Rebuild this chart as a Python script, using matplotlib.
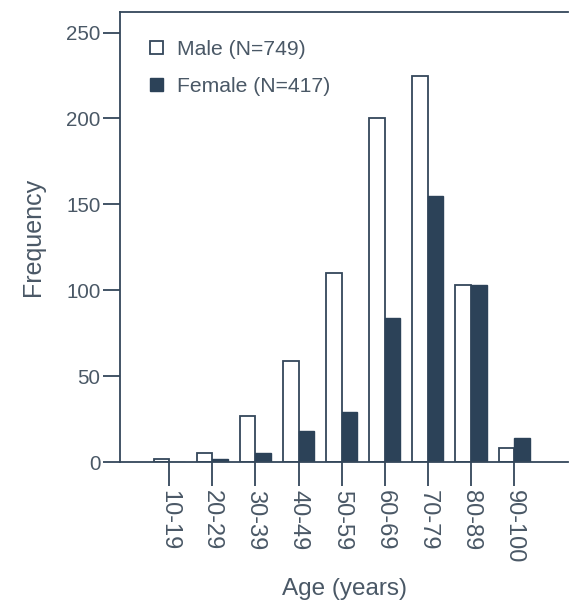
import matplotlib
matplotlib.use("Agg")
import matplotlib.pyplot as plt
import numpy as np
from matplotlib.patches import Patch

categories = ["10-19", "20-29", "30-39", "40-49", "50-59", "60-69", "70-79", "80-89", "90-100"]
male = [2, 5, 27, 59, 110, 200, 225, 103, 8]
female = [0, 2, 5, 18, 29, 84, 155, 103, 14]
yticks = [0, 50, 100, 150, 200, 250]

ink = "#34475a"
dark = "#2c4258"
txt = "#4a5866"

plt.rcParams['font.family'] = ['Liberation Sans', 'DejaVu Sans']

fig = plt.figure(figsize=(5.70, 6.03), dpi=100)
ax = fig.add_axes([120/570, 1-462/603, 448/570, 450/603])

x = np.arange(len(categories))
w = 0.36
ax.bar(x - w/2, male, width=w, facecolor="white", edgecolor=ink, linewidth=1.3)
ax.bar(x + w/2, female, width=w, facecolor=dark, edgecolor=dark, linewidth=1.0)

ax.set_xlim(-1.14, 9.25)
ax.set_ylim(0, 262)
ax.set_xticks(x)
ax.set_xticklabels(categories, rotation=-90, fontsize=17, color=txt)
ax.set_yticks(yticks)
ax.set_yticklabels([str(v) for v in yticks], fontsize=14.8, color=txt)

for s in ["left", "bottom", "top"]:
    ax.spines[s].set_color(ink)
    ax.spines[s].set_linewidth(1.3)
ax.spines["right"].set_visible(False)

ax.tick_params(axis="x", direction="out", length=17, width=1.3, color=ink, pad=3)
ax.tick_params(axis="y", direction="out", length=12, width=1.3, color=ink, pad=2)

ax.set_ylabel("Frequency", fontsize=18, color=txt, labelpad=15)
ax.set_xlabel("Age (years)", fontsize=17.5, color=txt)
ax.xaxis.label.set_va("center")
ax.xaxis.set_label_coords(0.502, -0.283)

handles = [Patch(facecolor="white", edgecolor=ink, linewidth=1.3, label="Male (N=749)"),
           Patch(facecolor=dark, edgecolor=dark, label="Female (N=417)")]
leg = ax.legend(handles=handles, loc="upper left", frameon=False, fontsize=15.2,
                handlelength=0.6, handleheight=0.6, handletextpad=0.65,
                labelspacing=0.85, borderaxespad=0.4, bbox_to_anchor=(0.03, 0.975))
for t in leg.get_texts():
    t.set_color(txt)

fig.savefig("out.png", dpi=100)
